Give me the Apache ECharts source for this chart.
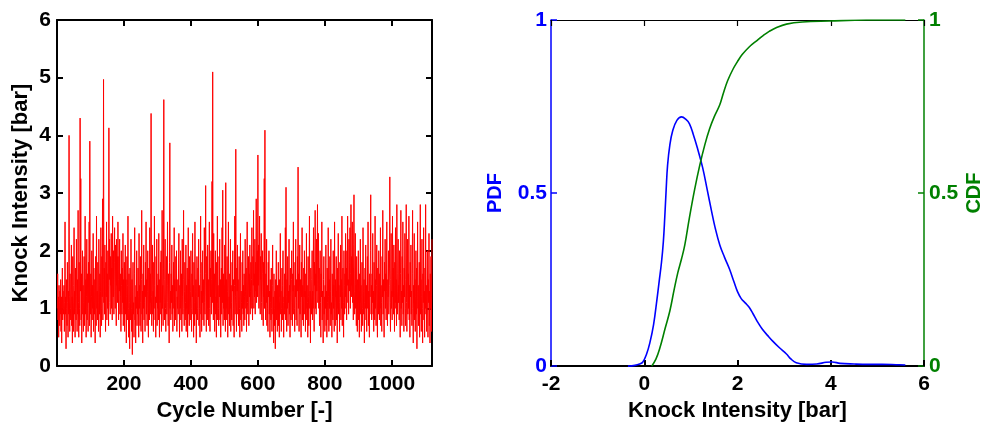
<!DOCTYPE html>
<html><head><meta charset="utf-8">
<script src="https://cdn.jsdelivr.net/npm/echarts@6/dist/echarts.min.js"></script>
<style>html,body{margin:0;padding:0;background:#fff}#c{width:985px;height:427px}</style>
</head><body><div id="c"></div>
<script>
// Knock intensity per cycle (cycles 1..1120), read/
const knockIntensity = [
1.0,1.6,0.8,1.2,0.5,1.4,1.1,0.7,1.3,0.9,1.5,0.6,1.2,0.4,1.1,1.7,0.8,1.3,0.9,1.0,
1.4,0.6,1.1,2.5,0.9,1.2,0.3,1.5,1.0,0.7,1.8,1.1,0.5,1.3,0.9,4.0,1.2,0.6,1.6,1.0,
0.8,1.5,2.1,0.7,1.2,0.4,1.9,1.1,0.6,1.4,2.4,0.9,1.3,0.5,1.7,1.0,0.8,2.2,1.2,0.6,
1.5,0.9,2.7,1.1,0.5,1.8,1.0,0.7,4.3,1.3,3.25,0.8,1.6,0.4,1.2,2.0,0.9,1.4,0.6,1.1,
1.9,0.7,1.3,2.6,0.9,1.5,0.5,1.2,2.2,0.8,1.6,1.0,0.6,1.8,1.1,2.5,0.7,3.9,1.3,0.9,
1.6,0.5,1.2,2.0,0.8,1.4,1.0,2.3,0.6,1.7,1.1,0.9,1.5,0.4,1.9,1.2,0.7,2.6,1.0,1.3,
0.8,1.8,1.1,0.6,2.2,1.4,0.9,1.6,0.5,1.3,2.4,1.0,0.7,1.9,1.2,2.9,0.8,1.5,4.97,1.1,
1.7,0.9,2.1,1.3,0.6,1.8,1.2,2.5,0.8,1.6,1.0,2.0,1.4,0.7,4.13,1.5,2.2,1.1,0.9,1.9,
1.4,2.3,1.0,1.7,0.8,2.6,1.5,1.2,2.0,0.9,1.8,2.4,1.3,1.0,2.1,1.6,0.7,2.2,1.4,1.9,
1.1,2.5,1.5,0.8,1.9,1.3,2.2,0.9,1.6,1.2,0.6,2.0,1.4,0.9,1.7,1.1,2.3,0.7,1.5,1.0,
1.8,0.6,1.3,2.1,0.9,1.5,0.4,1.2,1.9,0.8,1.4,2.6,1.0,0.5,1.6,1.1,0.3,1.7,1.2,0.8,
2.2,1.0,0.6,1.5,0.2,1.3,1.8,0.9,1.1,0.5,1.6,2.4,0.8,1.2,0.4,1.4,1.0,2.0,0.7,1.3,
0.9,1.7,1.2,0.5,2.3,1.0,1.4,0.7,1.9,1.1,0.6,1.5,2.7,0.9,1.3,0.4,1.6,1.0,2.1,0.8,
1.4,1.1,0.6,1.8,1.2,2.5,0.9,1.5,0.7,1.3,2.0,1.0,0.5,1.7,1.2,0.8,2.4,1.1,1.6,0.9,
4.38,1.2,0.7,1.5,2.1,0.9,1.3,0.6,1.8,1.0,2.6,1.4,0.8,1.2,0.5,1.9,1.1,2.2,0.7,1.4,
1.0,1.6,0.8,2.3,1.2,0.5,1.5,1.1,1.8,0.9,2.0,0.6,1.3,2.7,1.0,1.4,0.7,1.7,4.62,1.1,
0.8,1.5,2.2,1.0,0.6,1.3,1.9,0.9,1.4,2.5,1.1,0.7,1.6,1.2,0.4,1.8,3.87,1.0,1.3,0.8,
1.6,1.1,2.1,0.9,1.4,0.6,1.2,1.8,1.0,2.4,0.7,1.5,1.1,0.8,1.9,1.3,2.0,0.6,1.2,1.0,
1.5,0.9,1.7,2.3,1.1,0.5,1.4,1.0,2.0,0.8,1.3,1.6,0.6,2.2,1.2,0.9,1.5,2.7,1.0,0.7,
1.3,1.8,0.8,1.1,2.1,0.6,1.4,1.0,1.7,0.5,1.2,2.4,0.9,1.5,0.7,1.9,1.1,0.8,1.3,2.0,
1.0,0.6,1.6,1.2,2.3,0.9,1.4,0.5,1.8,1.1,0.7,2.5,1.3,0.9,1.5,0.4,1.2,1.9,1.0,0.8,
1.7,1.2,2.2,0.7,1.4,1.0,0.5,1.6,2.6,0.9,1.3,0.6,1.8,1.1,2.0,0.8,1.5,1.2,0.7,2.4,
1.1,0.9,1.6,3.13,1.2,0.6,1.9,1.4,0.8,2.1,1.0,1.5,0.7,1.3,2.5,1.0,0.6,1.7,1.2,2.0,
0.9,1.5,3.2,1.1,5.1,1.3,0.8,2.3,1.0,1.6,0.6,1.4,2.0,0.9,1.2,0.5,1.8,1.1,2.6,0.8,
1.4,1.0,0.7,1.9,1.2,2.2,0.8,1.5,0.5,1.3,1.7,0.9,2.4,1.1,3.05,0.7,1.6,1.0,1.4,0.8,
2.1,1.2,0.6,3.18,1.0,1.5,0.8,1.9,1.3,0.5,1.7,2.5,0.9,1.2,0.7,1.6,1.0,2.2,0.6,1.4,
1.1,0.8,1.8,1.3,2.0,0.7,1.5,1.0,0.5,1.4,2.6,0.9,1.2,3.76,1.1,0.6,1.7,1.3,2.1,0.9,
1.5,0.7,1.2,1.9,1.0,0.5,1.6,2.3,0.8,1.3,1.1,0.6,1.8,1.0,2.0,0.9,1.4,0.7,1.6,1.2,
0.8,2.2,1.3,1.0,1.7,0.6,1.5,2.5,1.1,0.9,1.4,1.9,0.7,1.6,1.2,2.1,0.9,1.3,1.8,1.0,
1.5,2.4,1.1,0.8,1.9,1.4,2.7,1.0,1.6,1.2,2.2,0.9,1.8,1.3,2.9,1.1,1.5,2.0,1.2,3.66,
1.4,2.1,1.0,1.7,2.6,1.2,0.9,1.9,1.5,2.3,1.1,0.8,1.6,2.0,1.3,0.7,1.8,1.2,3.25,1.0,
4.09,1.3,0.8,1.6,1.1,2.2,0.7,1.4,1.0,0.6,1.8,1.2,2.0,0.9,1.3,0.5,1.5,1.1,0.8,1.7,
1.0,0.6,1.4,2.1,0.9,1.2,0.4,1.6,1.0,0.7,1.3,0.3,1.5,1.1,2.0,0.8,1.2,0.6,1.4,1.0,
1.8,0.7,1.1,0.5,1.5,1.2,2.3,0.9,1.3,0.6,1.0,1.7,0.8,1.4,2.0,1.1,0.5,1.2,0.9,1.6,
1.0,2.4,0.8,3.1,1.2,0.6,1.5,1.0,1.9,0.7,1.3,1.1,2.2,0.9,1.4,0.5,1.7,1.2,0.8,1.5,
2.0,1.1,0.7,1.6,1.3,2.5,0.9,1.4,1.0,0.6,1.8,1.2,2.2,0.8,1.5,1.1,0.7,1.9,1.3,3.45,
1.0,1.6,0.6,1.3,2.1,0.9,1.5,1.1,0.5,1.8,1.2,2.4,0.8,1.4,1.0,0.7,1.7,1.2,2.0,0.9,
1.3,0.6,1.6,1.0,2.3,0.8,1.4,1.1,0.5,1.9,1.2,0.7,1.5,2.6,1.0,1.3,0.4,1.7,1.1,0.9,
1.5,2.0,0.8,1.3,1.0,2.4,1.2,0.6,1.8,1.4,2.7,1.0,1.6,0.9,2.2,1.3,1.8,2.8,1.1,1.5,
2.3,1.0,1.7,0.7,1.4,2.0,1.1,0.5,1.6,1.2,2.5,0.8,1.3,1.0,0.4,1.5,1.9,0.9,1.2,0.6,
1.4,1.0,2.1,0.7,1.3,0.5,1.7,1.1,0.8,2.4,1.2,0.6,1.5,1.0,1.9,0.7,1.3,2.2,0.9,1.1,
0.5,1.6,1.2,0.8,2.0,1.0,1.4,0.6,2.5,1.1,0.7,1.5,1.2,1.9,0.8,1.3,0.4,1.7,1.0,2.3,
0.9,1.4,1.1,0.6,1.8,1.2,2.1,0.8,1.5,1.0,2.6,0.7,1.3,1.7,1.1,0.5,2.0,1.4,0.9,1.6,
1.2,2.3,1.0,1.7,0.8,2.0,1.4,2.6,1.1,1.5,0.9,2.2,1.3,1.8,2.4,1.0,1.6,2.8,1.2,1.9,
1.4,2.5,1.1,1.7,0.8,2.1,2.97,1.3,0.9,1.6,2.3,1.0,1.4,0.7,1.9,1.2,0.6,1.5,1.1,2.0,
0.8,1.3,0.5,1.6,1.1,2.2,0.9,1.4,0.6,1.2,1.8,1.0,0.7,2.4,1.3,0.9,1.5,0.4,1.1,1.7,
1.0,2.1,0.8,1.4,0.6,1.2,1.9,1.0,2.5,0.7,1.3,1.1,0.5,1.6,1.2,2.0,2.97,0.9,1.4,0.8,
1.6,1.1,2.3,0.9,1.3,0.6,1.8,1.2,0.8,2.6,1.0,1.5,0.7,1.4,2.1,1.1,0.5,1.7,1.2,0.9,
2.0,1.3,0.8,1.6,1.0,2.4,0.7,1.4,1.1,0.6,1.9,1.2,2.7,0.9,1.5,1.0,0.5,1.8,1.3,2.2,
1.0,1.6,0.8,1.3,2.5,1.1,0.7,1.5,1.2,2.0,0.9,1.4,1.7,3.28,1.1,0.6,1.5,2.3,1.0,1.3,
0.8,2.6,1.2,1.7,0.9,2.1,1.4,0.6,1.8,1.1,2.4,1.0,1.5,0.7,2.8,1.3,0.9,1.6,2.2,1.1,
1.4,0.8,2.0,1.2,0.5,1.6,2.7,1.0,1.3,0.7,1.9,1.1,2.5,0.9,1.4,0.6,1.7,1.2,2.3,1.0,
0.7,1.5,2.8,1.1,0.6,1.3,2.2,0.9,1.6,1.0,2.6,0.8,1.4,0.5,1.8,1.2,2.1,0.9,1.3,0.7,
1.6,2.7,1.0,0.4,1.4,1.1,2.3,0.8,1.5,0.6,1.2,2.0,0.9,1.7,0.3,1.3,2.5,1.0,1.4,0.7,
1.1,1.8,0.5,1.3,2.8,0.9,1.5,0.6,1.2,2.2,1.0,0.4,1.6,1.1,2.4,0.8,1.3,0.5,1.7,1.0,
2.8,0.9,1.4,0.6,1.2,2.0,1.0,0.5,1.5,1.1,2.3,0.7,1.3,0.4,1.6,1.0,1.9,0.6,1.2,2.2
];
const firstCycle = 1;

// PDF of knock intensity: [intensity, density]
const pdfPoints = [
[-0.35,0],[-0.2,0.002],[-0.1,0.006],[-0.03,0.012],[0.05,0.035],[0.12,0.067],[0.2,0.12],[0.27,0.19],
[0.32,0.245],[0.37,0.30],[0.41,0.36],[0.44,0.43],[0.47,0.51],[0.5,0.58],[0.55,0.64],[0.61,0.68],
[0.7,0.71],[0.8,0.72],[0.9,0.712],[0.97,0.70],[1.05,0.67],[1.14,0.63],[1.25,0.575],[1.35,0.51],
[1.44,0.45],[1.52,0.40],[1.62,0.35],[1.72,0.315],[1.83,0.28],[1.92,0.245],[2.0,0.215],[2.08,0.195],
[2.17,0.182],[2.25,0.17],[2.33,0.152],[2.42,0.13],[2.53,0.107],[2.65,0.088],[2.75,0.073],[2.9,0.053],
[3.05,0.035],[3.15,0.02],[3.26,0.01],[3.48,0.005],[3.7,0.006],[3.9,0.011],[4.03,0.012],[4.2,0.008],
[4.5,0.006],[4.8,0.005],[5.1,0.005],[5.4,0.004],[5.6,0.003]
];
// CDF of knock intensity: [intensity, cumulative probability]
const cdfPoints = [
[0.16,0],[0.25,0.02],[0.33,0.05],[0.45,0.11],[0.55,0.16],[0.64,0.22],[0.72,0.27],[0.8,0.31],
[0.87,0.35],[0.97,0.43],[1.08,0.51],[1.19,0.58],[1.3,0.64],[1.4,0.685],[1.5,0.72],[1.62,0.755],
[1.7,0.79],[1.79,0.825],[1.9,0.857],[2.0,0.88],[2.1,0.9],[2.25,0.922],[2.41,0.94],[2.55,0.955],
[2.68,0.967],[2.85,0.979],[3.05,0.988],[3.39,0.994],[3.97,0.997],[4.76,1.0],[5.6,1.0]
];

const FONT = '"Liberation Sans", Arial, sans-serif';
const BLUE = '#0000ff', GREEN = '#008000', RED = '#ff0000', BLACK = '#000';

function lbl(color, size, extra) {
  return Object.assign({color: color, fontFamily: FONT, fontWeight: 'bold', fontSize: size}, extra || {});
}
function axis(o) {
  const c = o.color || BLACK, w = o.width || 2;
  return Object.assign({
    type: 'value', splitLine: {show: false},
    axisLine: {show: true, onZero: false, lineStyle: {color: c, width: w}},
    axisTick: {show: true, inside: true, length: 6, lineStyle: {color: c, width: w}},
    axisLabel: o.labels === false ? {show: false} : lbl(c, 21, {margin: o.margin || 6,
      showMinLabel: o.showMin !== false, showMaxLabel: o.showMax !== false, formatter: v => String(v)}),
    nameTextStyle: lbl(c, o.nameSize || 22)
  }, o.opt);
}

const knockData = knockIntensity.map((v, i) => [firstCycle + i, v]);

const chart = echarts.init(document.getElementById('c'), null, {renderer: 'canvas'});
chart.setOption({
  backgroundColor: '#fff',
  animation: false,
  grid: [
    {left: 57, top: 20, width: 375, height: 350},
    {left: 551, top: 20, width: 374, height: 350}
  ],
  xAxis: [
    axis({margin: 8, showMin: false, showMax: false, opt: {gridIndex: 0, position: 'bottom', min: 0, max: 1120, interval: 200,
      name: 'Cycle Number [-]', nameLocation: 'middle', nameGap: 30}}),
    axis({labels: false, opt: {gridIndex: 0, position: 'top', min: 0, max: 1120, interval: 200}}),
    axis({margin: 8, opt: {gridIndex: 1, position: 'bottom', min: -2, max: 6, interval: 2,
      name: 'Knock Intensity [bar]', nameLocation: 'middle', nameGap: 30}}),
    axis({labels: false, width: 1.2, opt: {gridIndex: 1, position: 'top', min: -2, max: 6, interval: 2}})
  ],
  yAxis: [
    axis({margin: 6, opt: {gridIndex: 0, position: 'left', min: 0, max: 6, interval: 1,
      name: 'Knock Intensity [bar]', nameLocation: 'middle', nameGap: 25}}),
    axis({labels: false, opt: {gridIndex: 0, position: 'right', min: 0, max: 6, interval: 1}}),
    axis({color: BLUE, width: 1.5, margin: 4, nameSize: 20, opt: {gridIndex: 1, position: 'left', min: 0, max: 1, interval: 0.5,
      name: 'PDF', nameLocation: 'middle', nameGap: 46}}),
    axis({color: GREEN, width: 1.5, margin: 5, nameSize: 20, opt: {gridIndex: 1, position: 'right', min: 0, max: 1, interval: 0.5,
      name: 'CDF', nameLocation: 'middle', nameGap: 40, nameRotate: 90}})
  ],
  series: [
    {type: 'line', xAxisIndex: 0, yAxisIndex: 0, data: knockData, showSymbol: false, symbol: 'none',
      lineStyle: {color: RED, width: 1}, z: 3},
    {type: 'line', xAxisIndex: 2, yAxisIndex: 2, data: pdfPoints, showSymbol: false, symbol: 'none', smooth: 0.4,
      lineStyle: {color: BLUE, width: 1.6}, z: 3},
    {type: 'line', xAxisIndex: 2, yAxisIndex: 3, data: cdfPoints, showSymbol: false, symbol: 'none', smooth: 0.4,
      lineStyle: {color: GREEN, width: 1.6}, z: 3}
  ]
});
</script></body></html>
